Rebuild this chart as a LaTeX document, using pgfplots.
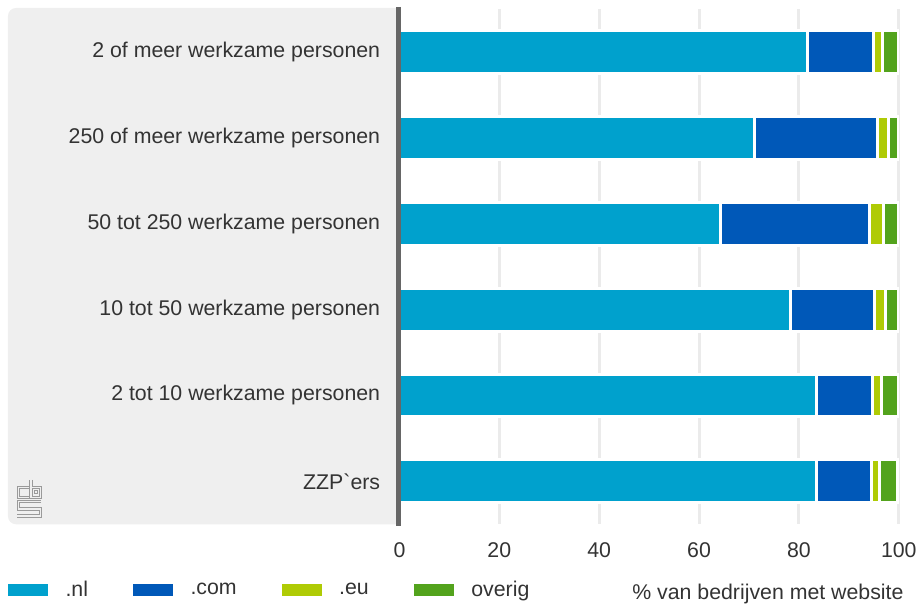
\documentclass[border=0pt]{standalone}
\usepackage{fontspec}
\setmainfont{Liberation Sans}
\usepackage{pgfplots}
\usepackage{pgfplotstable}
\pgfplotsset{compat=1.18}
\definecolor{cnl}{HTML}{00A1CD}
\definecolor{ccom}{HTML}{0058B8}
\definecolor{ceu}{HTML}{AFCB05}
\definecolor{cov}{HTML}{53A31D}
\definecolor{panel}{HTML}{EFEFEF}
\definecolor{axisgray}{HTML}{666666}
\definecolor{txt}{HTML}{333333}
\definecolor{gridc}{HTML}{EBEBEB}
\definecolor{logoc}{HTML}{9A9A9A}

\pgfplotstableread{
y   nl    com   eu   ov
0   81.8  13.1  1.8  3.3
1   71.2  24.5  2.3  2.0
2   64.2  30.0  2.7  3.1
3   78.3  16.8  2.2  2.7
4   83.6  11.2  1.7  3.5
5   83.5  11.0  1.6  3.6
}\datatable

\newcommand{\lbl}{\fontsize{16pt}{19pt}\selectfont}

\begin{document}
\begin{tikzpicture}
\begin{scope}[x=0.75pt,y=-0.75pt,yshift=456pt]
  \path[use as bounding box] (0,0) rectangle (921,608);
  \fill[panel] (399,8) [rounded corners=6pt] -- (8,8) -- (8,525) [sharp corners] -- (399,525) -- cycle;
  % cbs logo
  \foreach \w/\c in {2.7pt/logoc,1.05pt/panel}{
    \draw[\c, line width=\w, line join=miter] (29,488) -- (18.5,488) -- (18.5,498) -- (29,498);
    \draw[\c, line width=\w, line join=miter] (31,480.5) -- (31,498) -- (40.5,498) -- (40.5,488) -- (31,488);
    \draw[\c, line width=\w, line join=miter] (41.5,502) -- (18.5,502) -- (18.5,509.5) -- (40.5,509.5) -- (40.5,516.5) -- (17,516.5);
  }
  \draw[logoc, line width=0.75pt] (34.5,491.5) rectangle (37.5,494.5);
\end{scope}
\begin{axis}[
  at={(300pt,62.25pt)}, anchor=south west,
  scale only axis, width=375pt, height=387pt,
  xbar stacked, bar width=32.25pt,
  xmin=0, xmax=100, ymin=-0.5, ymax=5.5, y dir=reverse,
  ytick={0,1,2,3,4,5},
  yticklabels={2 of meer werkzame personen,250 of meer werkzame personen,50 tot 250 werkzame personen,10 tot 50 werkzame personen,2 tot 10 werkzame personen,ZZP\textasciigrave ers},
  xtick={0,20,40,60,80,100},
  /pgf/number format/assume math mode=true,
  axis line style={draw=none},
  major tick length=0pt, tick style={draw=none},
  xmajorgrids, grid style={gridc, line width=2.25pt},
  ticklabel style={font=\lbl, text=txt},
  yticklabel style={anchor=east, xshift=-11pt},
  xticklabel style={anchor=north, yshift=-10pt},
  xlabel={\% van bedrijven met website},
  xlabel style={font=\lbl, text=txt, at={(rel axis cs:1.01,-0.1453)}, anchor=base east, inner sep=0pt},
  every axis plot/.append style={draw=white, line width=2.25pt},
  legend columns=4,
  legend style={draw=none, fill=none, font=\lbl, text=txt,
    at={(rel axis cs:-0.784,-0.1279)}, anchor=west, inner xsep=0pt, inner ysep=0pt,
    /tikz/every odd column/.append style={column sep=11pt},
    /tikz/every even column/.append style={column sep=32pt}},
  legend image code/.code={\fill[#1, draw=none] (0pt,-4.7pt) rectangle (30pt,4.7pt);},
  legend cell align=left,
]
\addplot[fill=cnl] table[x=nl, y=y] {\datatable};
\addplot[fill=ccom] table[x=com, y=y] {\datatable};
\addplot[fill=ceu] table[x=eu, y=y] {\datatable};
\addplot[fill=cov] table[x=ov, y=y] {\datatable};
\legend{.nl,.com,.eu,overig}
\end{axis}
\begin{scope}[x=0.75pt,y=-0.75pt,yshift=456pt]
  \draw[axisgray, line width=3.2pt] (399,7) -- (399,527);
\end{scope}
\end{tikzpicture}
\end{document}
